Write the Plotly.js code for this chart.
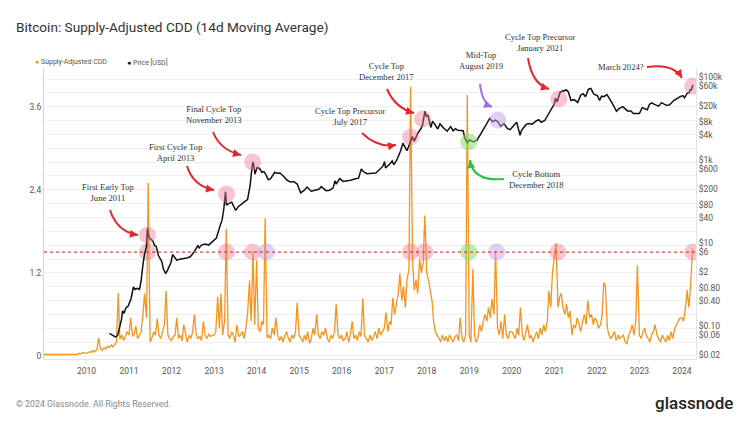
<!DOCTYPE html>
<html>
<head>
<meta charset="utf-8">
<script src="https://cdn.plot.ly/plotly-3.0.1.min.js"></script>
<style>html,body{margin:0;padding:0;background:#fff;}#chart{width:750px;height:422px;}</style>
</head>
<body>
<div id="chart"></div>
<script>
// ---------- DATA ----------
// Supply-Adjusted CDD (14d MA), sampled on the 1st and 15th of each month
const cdd2009 = [0.02,0.02,0.02,0.02,0.02,0.02,0.02,0.02,0.02,0.02,0.02,0.02,0.02,0.02,0.02,0.02,0.03,0.02,0.03,0.02,0.04,0.03,0.05,0.04];
const cdd2010 = [0.04,0.05,0.06,0.05,0.08,0.06,0.09,0.26,0.1,0.08,0.12,0.1,0.14,0.12,0.16,0.13,0.18,0.2,0.91,0.24,0.3,0.22,0.28,0.35];
const cdd2011 = [0.3,0.55,0.28,0.32,0.43,0.25,0.3,0.35,0.6,0.9,0.55,2.5,0.2,0.25,0.35,0.3,0.54,0.3,0.25,0.35,0.45,0.94,0.3,0.25];
const cdd2012 = [0.22,0.28,0.3,0.55,0.25,0.3,0.22,0.45,0.28,0.2,0.3,0.25,0.35,0.6,0.3,0.25,0.28,0.22,0.5,0.3,0.25,0.32,0.28,0.3];
const cdd2013 = [0.3,0.35,0.85,0.4,0.9,0.3,0.5,1.84,0.3,0.25,0.35,0.3,0.2,0.45,0.28,0.3,0.35,0.25,0.4,0.6,1.09,0.5,1.52,0.45];
const cdd2014 = [1.38,0.4,0.35,0.5,0.45,1.99,0.26,0.3,0.25,0.4,0.3,0.55,0.3,0.22,0.28,0.2,0.3,0.35,0.25,0.2,0.3,0.25,0.35,0.77];
const cdd2015 = [0.3,0.25,0.2,0.3,0.22,0.35,0.18,0.25,0.4,0.3,0.6,0.3,0.25,0.35,0.3,0.4,0.25,0.2,0.3,0.25,0.35,0.75,0.3,0.25];
const cdd2016 = [0.3,0.22,0.25,0.35,0.2,0.3,0.5,0.25,0.3,0.22,0.35,0.28,0.83,0.3,0.25,0.2,0.3,0.22,0.28,0.35,0.25,0.4,0.3,0.35];
const cdd2017 = [0.4,0.63,0.35,0.5,0.45,0.84,0.6,0.75,0.9,1.19,0.8,1.0,0.7,1.1,1.25,3.89,1.38,0.95,1.1,0.9,1.4,1.2,1.35,2.03];
const cdd2018 = [1.2,1.1,0.95,0.8,0.5,0.35,0.3,0.25,0.2,0.3,0.22,0.28,0.2,0.3,0.25,0.2,0.28,0.3,0.22,0.55,0.25,0.2,0.3,3.77];
const cdd2019 = [0.3,0.2,1.26,0.3,0.2,0.25,0.45,0.35,0.5,0.6,0.5,0.7,0.55,0.82,0.6,1.52,0.4,0.3,0.5,0.25,0.6,0.3,0.25,0.35];
const cdd2020 = [0.35,0.3,0.25,0.4,0.3,0.7,0.3,0.22,0.35,0.45,0.25,0.3,0.2,0.28,0.35,0.25,0.4,0.3,0.45,0.35,0.5,0.94,0.7,1.2];
const cdd2021 = [1.4,1.63,0.7,0.85,0.9,0.7,0.6,0.75,0.55,0.65,0.3,0.45,0.4,0.55,0.45,0.35,0.5,0.6,0.45,0.8,0.55,0.6,0.45,0.55];
const cdd2022 = [0.5,0.4,0.45,0.6,1.06,1.0,0.4,0.3,0.25,0.3,0.35,0.22,0.3,0.25,0.28,0.3,0.2,0.17,0.3,0.35,0.45,0.3,0.5,1.31];
const cdd2023 = [0.3,0.25,0.35,0.4,0.3,0.25,0.2,0.3,0.35,0.45,0.3,0.25,0.2,0.3,0.25,0.2,0.3,0.22,0.35,0.25,0.4,0.45,0.5,0.55];
const cdd2024 = [0.55,0.5,0.7,0.95,0.7,1.0,1.55];
const cddYears = [2009,2010,2011,2012,2013,2014,2015,2016,2017,2018,2019,2020,2021,2022,2023,2024];
const cddByYear = [cdd2009,cdd2010,cdd2011,cdd2012,cdd2013,cdd2014,cdd2015,cdd2016,cdd2017,cdd2018,cdd2019,cdd2020,cdd2021,cdd2022,cdd2023,cdd2024];

// Price [USD]
const priceDates = ['2010-07-17','2010-08-10','2010-09-05','2010-09-25','2010-10-12','2010-10-28','2010-11-07','2010-11-20','2010-12-05','2010-12-25',
'2011-01-18','2011-02-08','2011-02-22','2011-03-12','2011-04-01','2011-04-15','2011-05-01','2011-05-15','2011-05-30','2011-06-08','2011-06-15','2011-06-25','2011-07-10','2011-07-25','2011-08-08','2011-08-22','2011-09-10','2011-09-25','2011-10-10','2011-10-22','2011-11-12','2011-11-28','2011-12-12','2011-12-28',
'2012-01-10','2012-01-25','2012-02-15','2012-03-10','2012-04-10','2012-05-10','2012-06-10','2012-07-10','2012-08-15','2012-08-25','2012-09-15','2012-10-15','2012-11-15','2012-12-20',
'2013-01-20','2013-02-18','2013-03-10','2013-03-25','2013-04-09','2013-04-17','2013-05-05','2013-06-01','2013-07-05','2013-07-25','2013-08-20','2013-09-20','2013-10-15','2013-11-05','2013-11-18','2013-11-30','2013-12-08','2013-12-18',
'2014-01-05','2014-01-25','2014-02-15','2014-03-05','2014-03-25','2014-04-10','2014-05-01','2014-06-05','2014-06-25','2014-07-20','2014-08-20','2014-09-20','2014-10-20','2014-11-15','2014-12-15',
'2015-01-14','2015-02-10','2015-03-10','2015-04-15','2015-05-20','2015-06-20','2015-07-10','2015-08-20','2015-09-20','2015-10-20','2015-11-05','2015-11-15','2015-12-15',
'2016-01-15','2016-02-15','2016-03-20','2016-04-20','2016-05-25','2016-06-18','2016-07-05','2016-08-05','2016-09-15','2016-10-20','2016-11-15','2016-12-20',
'2017-01-04','2017-01-12','2017-02-15','2017-03-10','2017-03-25','2017-04-20','2017-05-20','2017-06-10','2017-07-15','2017-08-05','2017-08-30','2017-09-15','2017-10-15','2017-11-10','2017-11-25','2017-12-08','2017-12-17','2017-12-28',
'2018-01-10','2018-02-05','2018-02-20','2018-03-10','2018-04-05','2018-04-25','2018-05-25','2018-06-25','2018-07-25','2018-08-15','2018-09-05','2018-09-25','2018-10-20','2018-11-10','2018-11-25','2018-12-15',
'2019-01-05','2019-02-05','2019-03-10','2019-04-05','2019-05-15','2019-06-26','2019-07-20','2019-08-10','2019-09-05','2019-09-28','2019-10-26','2019-11-25','2019-12-18',
'2020-01-20','2020-02-12','2020-03-12','2020-03-25','2020-04-30','2020-05-20','2020-06-25','2020-07-28','2020-08-20','2020-09-10','2020-10-10','2020-11-20','2020-12-31',
'2021-01-10','2021-01-25','2021-02-20','2021-03-15','2021-04-14','2021-05-01','2021-05-23','2021-06-20','2021-07-20','2021-08-15','2021-09-05','2021-09-25','2021-10-20','2021-11-10','2021-12-05',
'2022-01-05','2022-01-24','2022-02-10','2022-03-01','2022-03-28','2022-04-15','2022-05-12','2022-06-18','2022-07-10','2022-08-12','2022-09-20','2022-10-20','2022-11-10','2022-12-15',
'2023-01-01','2023-01-25','2023-03-10','2023-03-28','2023-04-15','2023-05-20','2023-06-15','2023-07-10','2023-08-20','2023-09-15','2023-10-25','2023-11-15','2023-12-15',
'2024-01-10','2024-01-23','2024-02-15','2024-03-05','2024-03-14','2024-03-20','2024-04-05'];
const priceValues = [0.066,0.06,0.054,0.058,0.09,0.14,0.23,0.2,0.27,0.3,
0.45,0.86,0.75,0.8,0.75,1.2,3.0,5.5,7.8,22,16,13,12,11,8.6,8.2,5,4.3,3.5,2.4,1.8,2.2,2.6,3.4,
5.2,4.6,3.8,4.0,4.1,4.3,4.6,5.8,8.7,7.5,8.8,9.3,8.8,10.6,
13,24,35,65,170,80,88,95,60,73,85,98,110,230,500,885,720,450,
650,620,500,520,420,330,350,500,470,480,400,320,290,300,260,
160,180,220,175,185,195,225,180,185,210,310,260,350,
300,310,320,345,360,600,520,460,470,480,560,700,
900,630,780,940,760,1000,1600,2500,1650,2400,3600,2800,4300,5500,6800,11000,14800,11000,
12000,6000,8500,7200,5500,7300,5800,4900,6300,5000,5600,5100,5100,5000,3200,2600,
3000,2700,3000,3900,6200,10000,8200,9000,8200,6400,7400,5600,5300,
6800,8000,3900,5100,6900,7500,7200,8600,9200,8000,8800,14000,22000,
30000,25000,43000,45000,48000,43000,27000,28000,24000,36000,39000,33000,50000,52000,38000,
35000,27000,34000,33000,37000,31000,23000,14700,17000,19000,15000,15000,13000,13000,
13000,18000,16000,21500,23500,21000,19500,23800,20500,20700,27000,29000,33000,
35000,31000,40000,42000,50000,47000,63000];

const thresholdValue = 1.5;

// highlight circles
const topCircleDates = ['2011-06-08','2013-04-17','2013-11-27','2017-08-15','2017-11-27','2021-02-08','2024-04-03'];
const topCirclePrices = [15.3,149,880,3520,9570,29000,59700];
const bottomCircleDates = ['2018-12-27'];
const bottomCirclePrices = [2670];
const midCircleDates = ['2019-09-02'];
const midCirclePrices = [9060];
const lineRedDates = ['2011-06-08','2013-04-17','2013-11-27','2017-08-15','2017-12-14','2021-01-30','2024-04-03'];
const linePurpleDates = ['2014-03-27','2019-08-24'];
const lineGreenDates = ['2018-12-27'];

const yearLabels = ['2010','2011','2012','2013','2014','2015','2016','2017','2018','2019','2020','2021','2022','2023','2024'];
const leftLabels = [0, 1.2, 2.4, 3.6];
const priceTickVals = [0.02,0.06,0.1,0.4,0.8,2,6,10,40,80,200,600,1000,4000,8000,20000,60000,100000];
const priceTickText = ['$0.02','$0.06','$0.10','$0.40','$0.80','$2','$6','$10','$40','$80','$200','$600','$1k','$4k','$8k','$20k','$60k','$100k'];

// ---------- BUILD ----------
const cddDates = [], cddValues = [];
cddByYear.forEach((arr, k) => {
  arr.forEach((v, i) => {
    const m = Math.floor(i/2) + 1;
    const d = (i % 2) ? 15 : 1;
    cddDates.push(cddYears[k] + '-' + String(m).padStart(2,'0') + '-' + String(d).padStart(2,'0'));
    cddValues.push(v);
  });
});

const ORANGE = '#f7931a';
const PINK = 'rgba(238,118,146,0.42)';
const PURPLE = 'rgba(196,160,236,0.5)';
const GREEN = 'rgba(130,222,110,0.55)';

function circles(x, y, color, axis) {
  return {x:x, y:y, yaxis:axis, type:'scatter', mode:'markers', hoverinfo:'skip',
    marker:{size:17, color:color, line:{width:0}}};
}

const traces = [
  {x:cddDates, y:cddValues, type:'scatter', mode:'lines', line:{color:ORANGE, width:1.3}, name:'Supply-Adjusted CDD'},
  {x:priceDates, y:priceValues, yaxis:'y2', type:'scatter', mode:'lines', line:{color:'#111', width:1.5}, name:'Price [USD]'},
  circles(lineRedDates, lineRedDates.map(()=>thresholdValue), PINK, 'y'),
  circles(linePurpleDates, linePurpleDates.map(()=>thresholdValue), PURPLE, 'y'),
  circles(lineGreenDates, lineGreenDates.map(()=>thresholdValue), GREEN, 'y'),
  circles(topCircleDates, topCirclePrices, PINK, 'y2'),
  circles(midCircleDates, midCirclePrices, PURPLE, 'y2'),
  circles(bottomCircleDates, bottomCirclePrices, GREEN, 'y2')
];

// plot area geometry (pixels)
const L = 44, R = 696, T = 68, B = 359;
const px = x => (x - L) / (R - L);
const py = y => (B - y) / (B - T);

const leftVals = [], leftText = [];
for (let i = 0; i <= 20; i++) {
  const v = Math.round(i * 0.2 * 10) / 10;
  leftVals.push(v);
  leftText.push(leftLabels.includes(v) ? String(v) : '');
}

const SERIF = 'Liberation Serif, DejaVu Serif, serif';
const note = (text, x, y) => ({text:text, xref:'paper', yref:'paper', x:px(x), y:py(y),
  xanchor:'center', yanchor:'middle', showarrow:false, align:'center',
  font:{family:SERIF, size:8.6, color:'#333'}});

const arrows = [
  {s:[110,210], c:[117,232], e:[138,235], col:'#e0282e'},
  {s:[187,166], c:[193,186], e:[214,190], col:'#e0282e'},
  {s:[213,132], c:[220,150], e:[241,155], col:'#e0282e'},
  {s:[362,133], c:[377,148], e:[396,145], col:'#e0282e'},
  {s:[387,89], c:[395,108], e:[414,113], col:'#e0282e'},
  {s:[480,84], c:[482,103], e:[492,107], col:'#9b6fd6'},
  {s:[504,179], c:[473,182], e:[470,160], col:'#2fbf4a'},
  {s:[528,58], c:[532,84], e:[549,89], col:'#e0282e'},
  {s:[647,67], c:[673,63], e:[682,78], col:'#e0282e'}
];

const shapes = [
  {type:'line', xref:'paper', x0:0, x1:1, yref:'y', y0:thresholdValue, y1:thresholdValue,
   line:{color:'#e0403a', width:1.2, dash:'dot'}}
];
const annotations = [];
arrows.forEach(a => {
  shapes.push({type:'path', xref:'paper', yref:'paper',
    path:`M ${px(a.s[0])},${py(a.s[1])} Q ${px(a.c[0])},${py(a.c[1])} ${px(a.e[0])},${py(a.e[1])}`,
    line:{color:a.col, width:2}});
  const dx = a.c[0]-a.e[0], dy = a.c[1]-a.e[1];
  const n = Math.sqrt(dx*dx+dy*dy) || 1;
  annotations.push({xref:'paper', yref:'paper', x:px(a.e[0]), y:py(a.e[1]),
    ax:dx/n*6, ay:dy/n*6, showarrow:true, arrowhead:2, arrowsize:0.8, arrowwidth:2,
    arrowcolor:a.col, text:''});
});

annotations.push(
  note('First Early Top<br>June 2011', 108, 192),
  note('First Cycle Top<br>April 2013', 175, 152.5),
  note('Final Cycle Top<br>November 2013', 213.5, 114.5),
  note('Cycle Top Precursor<br>July 2017', 350, 117),
  note('Cycle Top<br>December 2017', 386.5, 72),
  note('Mid-Top<br>August 2019', 480.7, 60),
  note('Cycle Top Precursor<br>January 2021', 539.7, 42.5),
  note('March 2024?', 621, 67),
  note('Cycle Bottom<br>December 2018', 536, 179.5),
  {text:'<span style="color:'+ORANGE+'">●</span> Supply-Adjusted CDD', xref:'paper', yref:'paper',
   x:px(33), y:py(62), xanchor:'left', yanchor:'middle', showarrow:false,
   font:{family:'Roboto, sans-serif', size:7, color:'#555'}},
  {text:'<span style="color:#111">●</span> Price [USD]', xref:'paper', yref:'paper',
   x:px(125), y:py(62), xanchor:'left', yanchor:'middle', showarrow:false,
   font:{family:'Roboto, sans-serif', size:7, color:'#555'}},
  {text:'© 2024 Glassnode. All Rights Reserved.', xref:'paper', yref:'paper',
   x:px(14), y:py(404), xanchor:'left', yanchor:'middle', showarrow:false,
   font:{family:'Roboto, sans-serif', size:8.8, color:'#8a8a8a'}},
  {text:'glassnode', xref:'paper', yref:'paper',
   x:px(735), y:py(403), xanchor:'right', yanchor:'middle', showarrow:false,
   font:{family:'Roboto, sans-serif', size:17, color:'#222', weight:500}}
);

const layout = {
  width:750, height:422,
  margin:{l:L, r:750-R, t:T, b:422-B},
  paper_bgcolor:'#ffffff', plot_bgcolor:'#ffffff',
  showlegend:false,
  title:{text:'Bitcoin: Supply-Adjusted CDD (14d Moving Average)', xref:'container', yref:'container',
    x:16/750, xanchor:'left', y:1-27/422, yanchor:'middle',
    font:{family:'Roboto, sans-serif', size:13.6, color:'#333'}},
  xaxis:{type:'date', range:['2009-01-01','2024-05-01'],
    tickvals:yearLabels.map(y => y + '-01-01'), ticktext:yearLabels,
    showgrid:false, showline:true, linecolor:'#e4e4e4', linewidth:1,
    ticks:'outside', ticklen:4, tickcolor:'#e4e4e4',
    tickfont:{family:'Roboto, sans-serif', size:8.5, color:'#555'}, zeroline:false},
  yaxis:{range:[-0.045,4.16], tickvals:leftVals, ticktext:leftText,
    showgrid:true, gridcolor:'#efefef', gridwidth:1, zeroline:false,
    showline:true, linecolor:'#f3d3a6', linewidth:1, ticks:'',
    tickfont:{family:'Roboto, sans-serif', size:8.5, color:'#555'}},
  yaxis2:{overlaying:'y', side:'right', type:'log', range:[-1.80,5.21],
    tickvals:priceTickVals, ticktext:priceTickText, showgrid:false, zeroline:false,
    showline:true, linecolor:'#e4e4e4', linewidth:1, ticks:'',
    tickfont:{family:'Roboto, sans-serif', size:8.5, color:'#555'}},
  shapes:shapes,
  annotations:annotations
};

Plotly.newPlot('chart', traces, layout, {staticPlot:true, displayModeBar:false});
</script>
</body>
</html>
